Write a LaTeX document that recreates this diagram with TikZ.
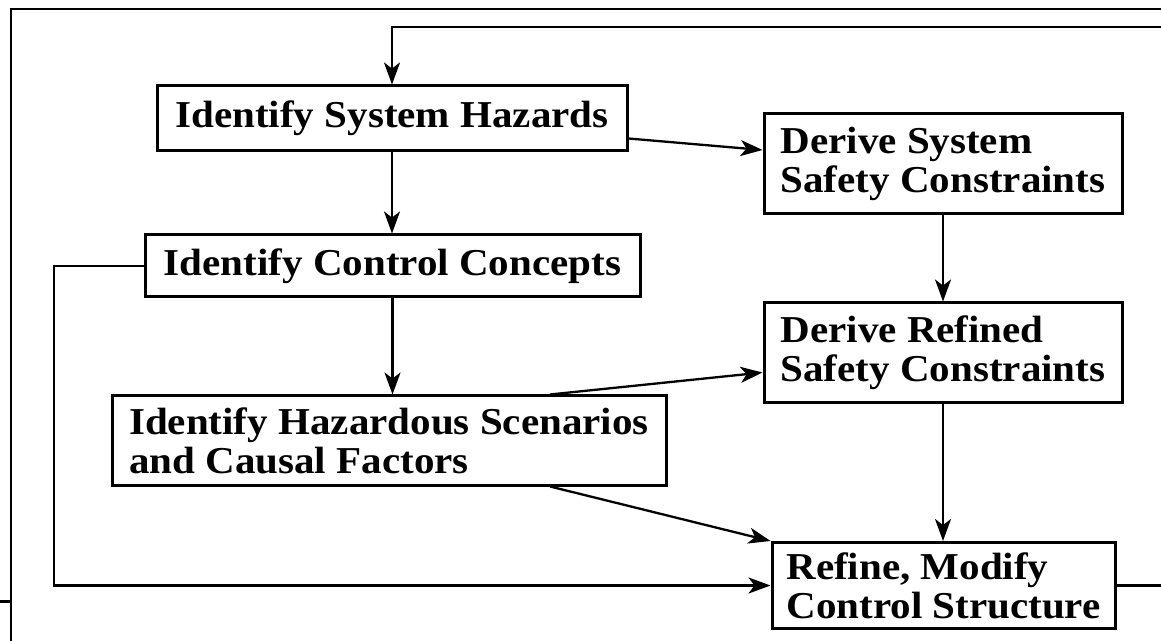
\documentclass[tikz,border=0pt]{standalone}
\usepackage{fontspec}
\setmainfont[FakeStretch=1.08]{Liberation Serif}
\usetikzlibrary{arrows.meta}
\begin{document}
\begin{tikzpicture}[x=0.5pt,y=-0.5pt,
  stepbox/.style={draw,line width=1.5pt,inner xsep=4pt,inner ysep=0pt,
    align=left,font=\fontsize{19}{19.5}\selectfont\bfseries},
  link/.style={line width=1.15pt},
  arr/.style={link,-{Stealth[length=11pt,width=8pt,inset=3pt]}}]
\useasboundingbox (0,0) rectangle (1161,641);

% outer frame of the page
\draw[line width=1pt] (11,641) -- (11,9) -- (1161,9);
\draw[line width=1.5pt] (0,601) -- (11,601);

% process steps
\node[stepbox,minimum width=235pt,minimum height=32.5pt] (ish) at (392,118.5) {Identify System Hazards};
\node[stepbox,minimum width=179pt,minimum height=50pt] (dssc) at (943,164) {Derive System\\Safety Constraints};
\node[stepbox,minimum width=247.5pt,minimum height=31pt] (icc) at (392.5,266) {Identify Control Concepts};
\node[stepbox,minimum width=179pt,minimum height=49.5pt] (drsc) at (943,352.5) {Derive Refined\\Safety Constraints};
\node[stepbox,minimum width=277pt,minimum height=44.5pt] (ihs) at (389,440.5) {Identify Hazardous Scenarios\\and Causal Factors};
\node[stepbox,minimum width=171.5pt,minimum height=43pt] (rmcs) at (943.5,585.5) {Refine, Modify\\Control Structure};

% loose ends of the feedback paths
\coordinate (topR) at (1161,27);
\coordinate (loopL) at (54,0);
\coordinate (outR) at (1161,585.5);

% feedback into the first step
\draw[arr,line width=1.3pt] (topR) -| (ish.north);

% main flow
\draw[arr] (ish.south) -- (ish.south |- icc.north);
\draw[arr] ([yshift=-10pt]ish.east) -- ([yshift=7pt]dssc.west);
\draw[arr] (dssc.south) -- (drsc.north);
\draw[arr] (icc.south) -- (icc.south |- ihs.north);
\draw[arr] ([xshift=80.5pt]ihs.north) -- ([yshift=-10pt]drsc.west);
\draw[arr] ([xshift=80.5pt]ihs.south) -- (rmcs.north west);
\draw[arr] (drsc.south) -- (drsc.south |- rmcs.north);

% control concepts loop back to the control structure
\draw[arr,line width=1.3pt] (icc.west) -- (icc.west -| loopL) |- (rmcs.west);
\draw[link,line width=1.3pt] (rmcs.east) -- (outR);
\end{tikzpicture}
\end{document}
